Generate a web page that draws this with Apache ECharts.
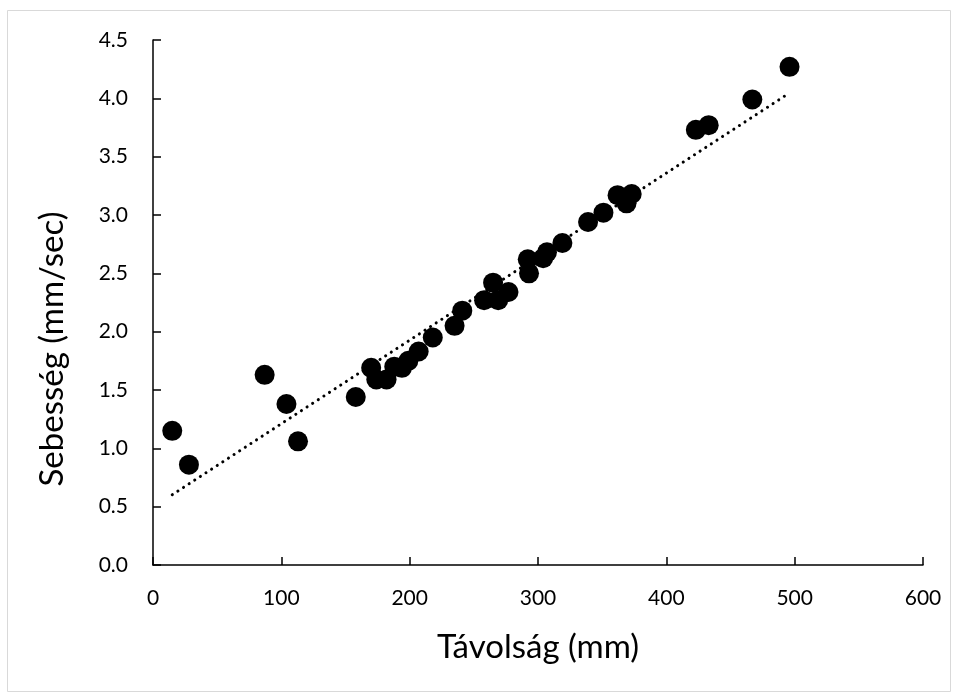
<!DOCTYPE html>
<html>
<head>
<meta charset="utf-8">
<script src="https://cdn.jsdelivr.net/npm/echarts@6/dist/echarts.min.js"></script>
<style>
	html, body { margin: 0; padding: 0; background: #fff; }
	#chart { width: 958px; height: 697px; }
</style>
</head>
<body>
<div id="chart"></div>
<script>
var distance = [15, 28, 87, 104, 113, 158, 170, 174, 182, 188, 194, 199, 207, 218, 235, 241, 258, 265, 269, 277,
	292, 293, 304, 307, 319, 339, 351, 362, 369, 373, 423, 433, 467, 496];
var speed = [1.15, 0.86, 1.63, 1.38, 1.06, 1.44, 1.69, 1.59, 1.59, 1.70, 1.69, 1.75, 1.83, 1.95, 2.05, 2.18, 2.27, 2.42, 2.27, 2.34,
	2.62, 2.50, 2.63, 2.68, 2.76, 2.94, 3.02, 3.17, 3.10, 3.18, 3.73, 3.77, 3.99, 4.27];

var xTicks = { min: 0, max: 600, interval: 100 };
var yTicks = { min: 0, max: 4.5, interval: 0.5 };

var xTitle = 'Távolság (mm)';
var yTitle = 'Sebesség (mm/sec)';

var fontFamily = 'Lato, "Open Sans", sans-serif';

// linear trendline (least squares, like the spreadsheet does)
function linearFit(xs, ys) {
	var n = xs.length, sx = 0, sy = 0, sxx = 0, sxy = 0;
	for (var i = 0; i < n; i++) {
		sx += xs[i];
		sy += ys[i];
		sxx += xs[i] * xs[i];
		sxy += xs[i] * ys[i];
	}
	var b = (n * sxy - sx * sy) / (n * sxx - sx * sx);
	var a = (sy - b * sx) / n;
	return { a: a, b: b };
}

var points = distance.map(function(d, i) {
	return [d, speed[i]];
});

var fit = linearFit(distance, speed);
var xMin = Math.min.apply(null, distance),
	xMax = Math.max.apply(null, distance);
var trend = [
	[xMin, fit.a + fit.b * xMin],
	[xMax, fit.a + fit.b * xMax]
];

var myChart = echarts.init(document.getElementById('chart'), null, { renderer: 'canvas' });

var axisCommon = {
	axisLine: { lineStyle: { color: '#000', width: 1.5 } },
	axisTick: { show: true, inside: true, length: 8, lineStyle: { color: '#000', width: 1.5 } },
	splitLine: { show: false },
	nameLocation: 'middle',
	nameTextStyle: { color: '#000', fontSize: 33, fontFamily: fontFamily }
};

var option = {
	animation: false,
	backgroundColor: '#fff',
	graphic: [{
		type: 'rect',
		shape: { x: 7.5, y: 10.5, width: 943, height: 681 },
		style: { fill: 'none', stroke: '#d9d9d9', lineWidth: 1 },
		silent: true
	}, {
		// y title sits a bit below the middle of the axis in the original
		type: 'text',
		x: 52,
		y: 349,
		rotation: Math.PI / 2,
		silent: true,
		style: {
			text: yTitle,
			fill: '#000',
			font: '33px ' + fontFamily,
			align: 'center',
			verticalAlign: 'middle'
		}
	}],
	grid: {
		left: 153,
		right: 35,
		top: 40,
		bottom: 132
	},
	xAxis: echarts.util.merge({
		type: 'value',
		min: xTicks.min,
		max: xTicks.max,
		interval: xTicks.interval,
		name: xTitle,
		nameGap: 66,
		axisLabel: { color: '#000', fontSize: 21, fontFamily: fontFamily, margin: 23 }
	}, axisCommon, true),
	yAxis: echarts.util.merge({
		type: 'value',
		min: yTicks.min,
		max: yTicks.max,
		interval: yTicks.interval,
		axisLabel: {
			color: '#000',
			fontSize: 21,
			fontFamily: fontFamily,
			margin: 25,
			formatter: function(v) { return v.toFixed(1); }
		}
	}, axisCommon, true),
	series: [{
		type: 'scatter',
		data: points,
		symbol: 'circle',
		symbolSize: 20,
		itemStyle: { color: '#000', opacity: 1 },
		z: 2
	}, {
		type: 'line',
		data: trend,
		symbol: 'none',
		z: 3,
		lineStyle: {
			color: '#000',
			width: 3,
			type: [0.1, 6.6],
			cap: 'round'
		}
	}]
};

myChart.setOption(option);
</script>
</body>
</html>
